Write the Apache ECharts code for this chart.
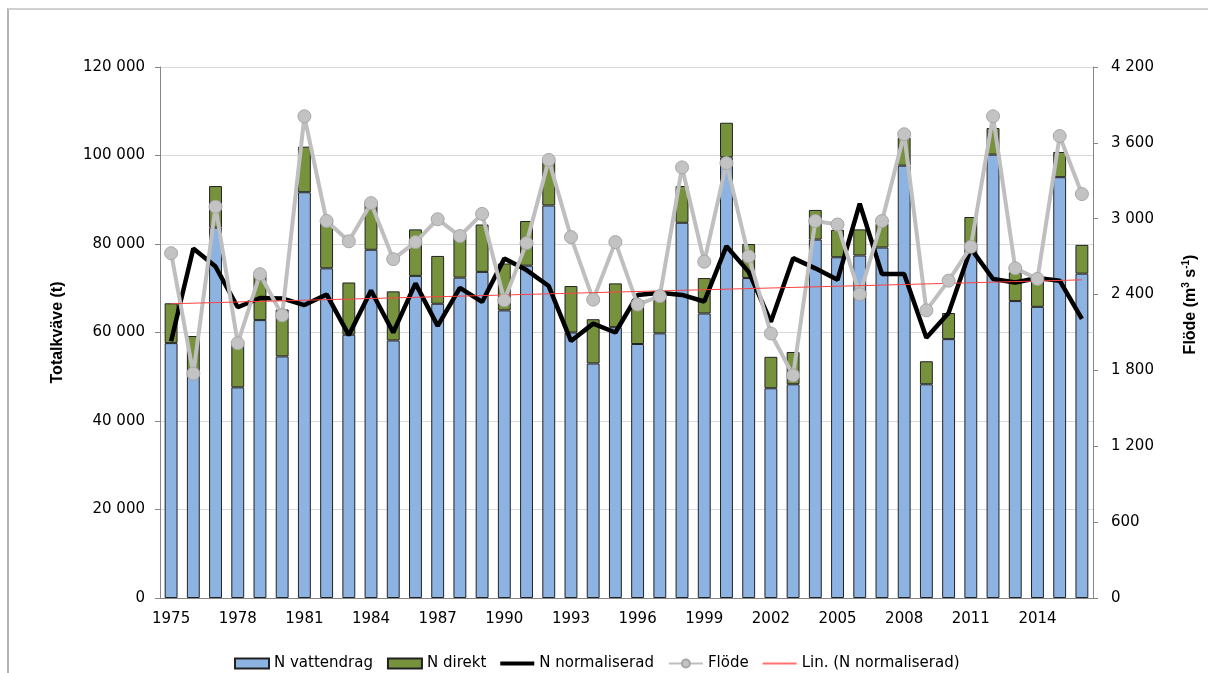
<!DOCTYPE html>
<html>
<head>
<meta charset="utf-8">
<title>Totalkväve</title>
<script src="https://cdn.jsdelivr.net/npm/echarts@6/dist/echarts.min.js"></script>
<style>
  html, body { margin: 0; padding: 0; background: #fff; overflow: hidden; }
  #frame { position: absolute; left: 7px; top: 8px; width: 1400px; height: 900px;
           border-left: 2px solid #b4b4b4; border-top: 2px solid #d0d0d0; }
  #main { position: absolute; left: 0; top: 0; width: 1208px; height: 673px; }
</style>
</head>
<body>
<div id="frame"></div>
<div id="main"></div>
<script>
  // år
  const years = [];
  for (let y = 1975; y <= 2016; y++) years.push(String(y));

  // N vattendrag (t)
  const nVattendrag = [57600, 51000, 83700, 47600, 62800, 54600, 91700, 74500, 59500, 78700,
    58200, 72800, 66500, 72400, 73700, 65000, 75100, 88700, 60000, 53000,
    61200, 57400, 59800, 84800, 64300, 99600, 72300, 47400, 48300, 81000,
    77000, 77400, 79200, 97700, 48300, 58500, 80200, 100200, 67100, 65800,
    95100, 73300];

  // N direkt (t)
  const nDirekt = [9000, 8200, 9400, 9700, 10300, 10600, 10300, 10500, 11800, 10800,
    11100, 10500, 10800, 9400, 10700, 10600, 10100, 10200, 10500, 10000,
    9900, 9900, 8700, 8300, 8000, 7800, 7700, 7100, 7300, 6700,
    6200, 5900, 5400, 6300, 5200, 5900, 5900, 6000, 6500, 5900,
    5700, 6500];

  // N normaliserad (t)
  const nNormaliserad = [58000, 79000, 74900, 65700, 67800, 67700, 66200, 68600, 59400, 69500,
    60000, 71100, 61500, 70100, 66900, 76700, 74100, 70500, 58100, 62000,
    60000, 68500, 69000, 68500, 67000, 79500, 73700, 62400, 76800, 74500,
    71900, 89100, 73200, 73200, 58800, 64400, 79000, 72100, 71300, 72300,
    71700, 63100];

  // Flöde (m3/s)
  const flode = [2727, 1775, 3095, 2015, 2561, 2236, 3810, 2982, 2821, 3123,
    2680, 2815, 2996, 2863, 3038, 2355, 2807, 3465, 2855, 2360,
    2815, 2321, 2388, 3406, 2660, 3440, 2702, 2092, 1761, 2982,
    2954, 2402, 2982, 3668, 2275, 2510, 2778, 3810, 2608, 2524,
    3654, 3195];

  // trendlinje, ändpunkter avlästa
  const trendStart = 66500;
  const trendEnd = 71900;
  const trend = years.map((y, i) => i === 0 ? trendStart : (i === years.length - 1 ? trendEnd : null));

  const fmt = v => String(v).replace(/\B(?=(\d{3})+(?!\d))/g, ' ');
  const font = 'DejaVu Sans';

  // legendikoner: linje utan markör (osynliga punkter håller höjden)
  const thickLine = 'path://M0,0L0.01,0M0,3L34,3L34,7L0,7ZM0,10L0.01,10';
  const thinLine = 'path://M0,0L0.01,0M0,4L34,4L34,6L0,6ZM0,10L0.01,10';

  let myChart = echarts.init(document.getElementById('main'));
  let option = {
    animation: false,
    textStyle: { fontFamily: font },
    grid: { left: 160, right: 115, top: 67, bottom: 75, outerBoundsMode: 'none', containLabel: false },
    legend: {
      left: 229,
      top: 651,
      itemWidth: 34,
      itemHeight: 10,
      itemGap: 14,
      textStyle: { fontFamily: font, fontSize: 15, color: '#000' },
      data: [
        { name: 'N vattendrag', icon: 'rect' },
        { name: 'N direkt', icon: 'rect' },
        { name: 'N normaliserad', icon: thickLine, itemStyle: { color: '#000', borderWidth: 0 } },
        { name: 'Flöde' },
        { name: 'Lin. (N normaliserad)', icon: thinLine, itemStyle: { color: '#ff7070', borderWidth: 0 } }
      ]
    },
    xAxis: {
      type: 'category',
      data: years,
      axisLine: { lineStyle: { color: '#868686', width: 1 } },
      axisTick: { interval: 0, length: 5, lineStyle: { color: '#868686' } },
      axisLabel: { interval: 2, margin: 14, fontSize: 15, color: '#000', fontFamily: font }
    },
    yAxis: [
      {
        type: 'value',
        min: 0, max: 120000, interval: 20000,
        name: 'Totalkväve (t)',
        nameLocation: 'middle',
        nameRotate: 90,
        nameGap: 94,
        nameTextStyle: { fontFamily: 'Liberation Sans', fontWeight: 'bold', fontSize: 16, color: '#000' },
        axisLine: { show: true, lineStyle: { color: '#868686' } },
        axisTick: { show: true, length: 5, lineStyle: { color: '#868686' } },
        axisLabel: { formatter: fmt, fontSize: 15, color: '#000', margin: 15, fontFamily: font },
        splitLine: { lineStyle: { color: '#d9d9d9' } }
      },
      {
        type: 'value',
        min: 0, max: 4200, interval: 600,
        name: 'Flöde (m{sup|3} s{sup|-1})',
        nameLocation: 'middle',
        nameRotate: 90,
        nameGap: 88,
        nameTextStyle: {
          fontFamily: 'Liberation Sans', fontWeight: 'bold', fontSize: 16, color: '#000',
          lineHeight: 20, padding: [0, 0, 0, 56],
          rich: {
            sup: { fontFamily: 'Liberation Sans', fontWeight: 'bold', fontSize: 10, color: '#000', verticalAlign: 'top', lineHeight: 20 }
          }
        },
        axisLine: { show: true, lineStyle: { color: '#868686' } },
        axisTick: { show: true, length: 5, lineStyle: { color: '#868686' } },
        axisLabel: { formatter: fmt, fontSize: 15, color: '#000', margin: 18, fontFamily: font },
        splitLine: { show: false }
      }
    ],
    series: [
      {
        name: 'N vattendrag',
        type: 'bar',
        stack: 'N',
        barWidth: '58%',
        data: nVattendrag,
        itemStyle: { color: '#8db3e2', borderColor: '#222', borderWidth: 1 }
      },
      {
        name: 'N direkt',
        type: 'bar',
        stack: 'N',
        data: nDirekt,
        itemStyle: { color: '#76923c', borderColor: '#222', borderWidth: 1 }
      },
      {
        name: 'N normaliserad',
        type: 'line',
        data: nNormaliserad,
        symbol: 'none',
        lineStyle: { color: '#000', width: 4.5 },
        itemStyle: { color: '#000' }
      },
      {
        name: 'Flöde',
        type: 'line',
        yAxisIndex: 1,
        data: flode,
        symbol: 'circle',
        symbolSize: 13,
        lineStyle: { color: '#bfbfbf', width: 4 },
        itemStyle: { color: '#c3c3c3', borderColor: '#a6a6a6', borderWidth: 1 }
      },
      {
        name: 'Lin. (N normaliserad)',
        type: 'line',
        data: trend,
        connectNulls: true,
        symbol: 'none',
        lineStyle: { color: '#ff4040', width: 1 },
        itemStyle: { color: '#ff7070' }
      }
    ]
  };
  myChart.setOption(option);
</script>
</body>
</html>
